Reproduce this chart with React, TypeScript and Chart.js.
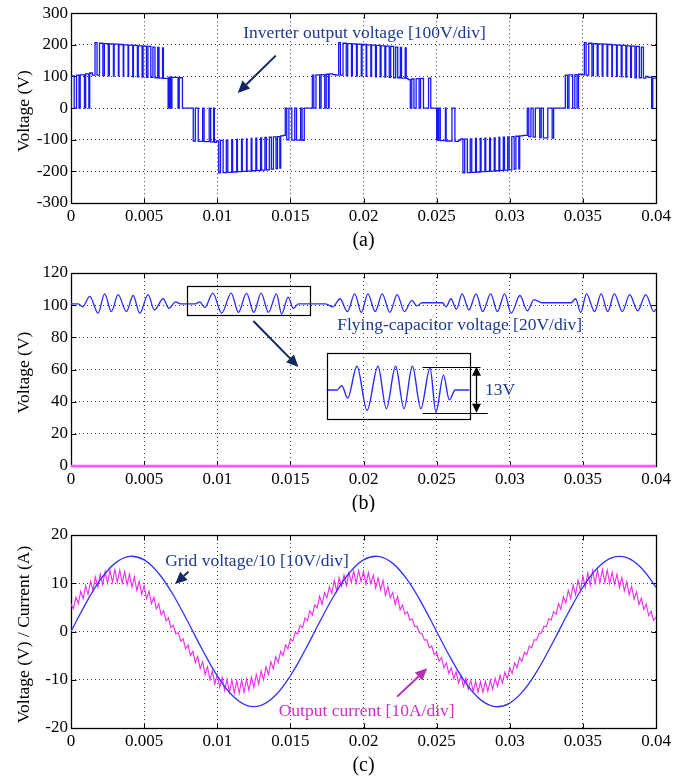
import { useEffect, useRef } from 'react';
import { Chart, registerables } from 'chart.js';

Chart.register(...registerables);

const SERIF = '"Liberation Serif", "Times New Roman", Times, serif';
const NAVY = '#1d3b8f';
const ARROW_NAVY = '#10285f';
const BLUE = '#1717ff';
const MAGENTA = '#ee2bee';
const MAGENTA_TEXT = '#d030c8';

// ---------- tick labels ----------
const xTickLabels = ['0', '0.005', '0.01', '0.015', '0.02', '0.025', '0.03', '0.035', '0.04'];
const voltageTicksA = [-300, -200, -100, 0, 100, 200, 300];
const voltageTicksB = [0, 20, 40, 60, 80, 100, 120];
const ticksC = [-20, -10, 0, 10, 20];

// ---------- (a) inverter output voltage: [time ms, level V], each level holds until next entry ----------
const inverterEdges: [number, number][] = [
  [0, 0], [0, 102], [0.22, 0], [0.38, 104], [0.55, 0], [0.63, 105], [0.92, 0], [1.0, 108], [1.22, 0], [1.28, 111], [1.46, 104],
  [1.64, 207], [1.78, 104], [1.95, 205], [2.18, 103], [2.28, 204], [2.55, 102], [2.62, 203], [2.9, 101], [2.95, 202], [3.24, 101],
  [3.28, 201], [3.57, 100], [3.61, 200], [3.9, 100], [3.94, 199], [4.22, 99], [4.27, 198], [4.54, 99], [4.6, 197], [4.86, 98],
  [4.93, 196], [5.16, 97], [5.26, 195], [5.46, 97], [5.6, 193], [5.74, 96], [5.93, 192], [6.02, 95], [6.26, 190], [6.32, 94],
  [6.64, 0], [6.7, 98], [6.76, 0], [6.82, 98], [6.87, 0], [6.9, 97], [7.32, 0], [7.4, 96], [7.62, 0],
  [8.36, -104], [8.5, 0], [8.7, -105], [9.0, 0], [9.1, -106], [9.45, 0], [9.55, -107], [9.75, 0], [9.8, -108], [9.95, -104],
  [10.1, -205], [10.22, -102], [10.4, -204], [10.62, -101], [10.72, -203], [10.99, -100], [11.05, -202], [11.33, -99], [11.38, -201],
  [11.66, -98], [11.71, -200], [12.0, -97], [12.04, -199], [12.32, -96], [12.37, -198], [12.64, -95], [12.7, -197], [12.96, -94],
  [13.03, -196], [13.26, -93], [13.36, -195], [13.56, -92], [13.7, -193], [13.84, -91], [14.02, -191], [14.12, -90], [14.28, -190],
  [14.34, -88], [14.5, -86],
  [14.65, 0], [14.75, -100], [14.9, 0], [15.1, -101], [15.3, 0], [15.42, -101], [15.7, 0], [15.8, -102], [15.95, 0],
  [16.5, 104], [16.6, 0], [16.75, 105], [17.0, 0], [17.1, 106], [17.35, 0], [17.45, 107], [17.6, 0], [17.65, 108], [17.9, 106], [18.1, 104],
  [18.3, 207], [18.42, 104], [18.6, 205], [18.82, 103], [18.92, 204], [19.18, 102], [19.24, 203], [19.52, 101], [19.57, 202],
  [19.85, 101], [19.9, 201], [20.18, 100], [20.22, 200], [20.5, 100], [20.55, 199], [20.82, 99], [20.88, 198], [21.14, 99],
  [21.2, 197], [21.46, 98], [21.52, 196], [21.76, 97], [21.86, 195], [22.06, 96], [22.2, 193], [22.34, 96], [22.52, 192],
  [22.6, 95], [22.85, 190], [22.92, 94], [23.05, 90],
  [23.2, 0], [23.3, 92], [23.45, 0], [23.6, 93], [23.8, 0], [23.9, 94], [24.1, 0], [24.45, 95], [24.6, 0],
  [25.0, -100], [25.05, 0], [25.1, -102], [25.15, 0], [25.25, -103], [25.6, 0], [25.65, -104], [26.05, 0], [26.25, -105], [26.5, -101], [26.65, -97],
  [26.8, -205], [26.92, -98], [27.1, -204], [27.3, -97], [27.4, -203], [27.66, -96], [27.72, -202], [27.98, -96], [28.04, -201],
  [28.3, -95], [28.36, -200], [28.62, -95], [28.68, -199], [28.94, -94], [29.0, -198], [29.26, -93], [29.32, -197], [29.56, -92],
  [29.64, -196], [29.86, -91], [29.96, -195], [30.14, -90], [30.3, -193], [30.42, -89], [30.62, -192], [30.68, -88], [30.9, -86],
  [31.2, 0], [31.3, -90], [31.45, 0], [31.6, -92], [31.75, 0], [32.05, -93], [32.15, 0], [32.3, -94], [32.6, 0], [32.9, -95], [33.0, 0],
  [33.8, 104], [33.95, 0], [34.05, 105], [34.3, 0], [34.45, 106], [34.6, 0], [34.7, 107], [34.9, 105],
  [35.1, 207], [35.22, 104], [35.4, 205], [35.62, 103], [35.72, 204], [35.98, 102], [36.04, 203], [36.32, 101], [36.37, 202],
  [36.65, 101], [36.7, 201], [36.98, 100], [37.02, 200], [37.3, 100], [37.35, 199], [37.62, 99], [37.68, 198], [37.94, 98],
  [38.0, 197], [38.26, 97], [38.32, 196], [38.56, 96], [38.66, 195], [38.86, 96], [39.0, 193], [39.14, 95], [39.3, 100],
  [39.45, 97], [39.7, 0], [39.78, 95], [40, 95],
];

// ---------- (b) flying-capacitor voltage: [time ms, V] ----------
const flyingCapPoints: [number, number][] = [
  [0, 100.8], [0.5, 100.8], [0.8, 99], [1.28, 105.5], [1.85, 95], [2.3, 107], [2.76, 96], [3.22, 106.5], [3.79, 96],
  [4.25, 106], [4.7, 95], [5.27, 106.5], [5.7, 97], [6.3, 104], [6.7, 98], [7.15, 102], [7.5, 100.8], [7.9, 100.8],
  [8.5, 100.8], [8.8, 102], [9.15, 98.5], [9.7, 107.5], [10.3, 95], [10.95, 107.5], [11.45, 95.5], [12.0, 107.5],
  [12.5, 95.5], [13.0, 107.5], [13.5, 95.5], [14.05, 107], [14.4, 94.5], [14.85, 105], [15.2, 98], [15.55, 100.8],
  [16.4, 100.8], [17.4, 100.8], [17.9, 99], [18.4, 104], [18.9, 96], [19.4, 107], [19.85, 95.5], [20.3, 107],
  [20.8, 96], [21.28, 107], [21.8, 95.5], [22.3, 106.5], [22.8, 96], [23.3, 103], [23.65, 99.5], [24.0, 101.5],
  [25.4, 101.5], [25.65, 99], [25.98, 104], [26.35, 97.5], [26.75, 107], [27.2, 97], [27.7, 107], [28.15, 96],
  [28.7, 107], [29.15, 96], [29.65, 107], [30.1, 95], [30.7, 106], [31.2, 96.5], [31.66, 103.5], [32.2, 101.5],
  [34.2, 101.5], [34.5, 104], [34.85, 95.5], [35.25, 107], [35.8, 96], [36.25, 107], [36.7, 96], [37.15, 107],
  [37.7, 96], [38.2, 106.5], [38.75, 96.5], [39.3, 106.5], [39.85, 96], [40, 97.5],
];
const zeroTrace: [number, number][] = [[0, 0], [40, 0]];
// magnified window (ms) shown in the inset
const insetWindow = [7.9, 16.4];

// ---------- (c) grid voltage / 10, sampled every 1 ms ----------
const gridVoltage = [
  0, 5.74, 10.68, 14.12, 15.57, 14.84, 12.02, 7.52, 1.96, -3.88, -9.17, -13.17, -15.32, -15.32, -13.17, -9.17, -3.88,
  1.96, 7.52, 12.02, 14.84, 15.57, 14.12, 10.68, 5.74, 0, -5.74, -10.68, -14.12, -15.57, -14.84, -12.02, -7.52, -1.96,
  3.88, 9.17, 13.17, 15.32, 15.32, 13.17, 9.17,
];
// output current, sampled every 1/6 ms
const outputCurrent = [
  5.7, 4.7, 7.1, 5.8, 8.3, 6.8, 9.5, 7.7, 10.4, 8.5, 11.3, 9.2, 11.9, 9.7, 12.4, 10.0, 12.7, 10.2, 12.8, 10.2,
  12.7, 10.0, 12.4, 9.7, 11.9, 9.2, 11.3, 8.5, 10.4, 7.7, 9.5, 6.8, 8.3, 5.8, 7.1, 4.7, 5.7, 3.4, 4.3, 2.2,
  2.8, 0.8, 1.3, -0.5, -0.2, -2.0, -1.5, -3.6, -2.8, -5.0, -4.1, -6.4, -5.2, -7.7, -6.3, -8.9, -7.3, -10.0, -8.2, -10.9,
  -8.9, -11.6, -9.5, -12.2, -9.9, -12.6, -10.1, -12.8, -10.2, -12.8, -10.1, -12.6, -9.9, -12.2, -9.5, -11.6, -8.9, -10.9, -8.2, -10.0,
  -7.3, -8.9, -6.3, -7.7, -5.2, -6.4, -4.1, -5.0, -2.8, -3.6, -1.5, -2.0, -0.2, -0.5, 1.3, 0.8, 2.8, 2.2, 4.3, 3.4,
  5.5, 4.9, 7.3, 5.6, 8.1, 7.0, 9.3, 7.9, 10.6, 8.3, 11.1, 9.4, 11.7, 9.5, 12.2, 10.2, 12.5, 10.0, 12.6, 10.4,
  12.5, 9.8, 12.2, 9.9, 11.7, 9.0, 11.1, 8.7, 10.6, 7.5, 9.3, 7.0, 8.1, 5.6, 7.3, 4.5, 5.5, 3.6, 4.1, 2.4,
  2.6, 1.0, 1.1, -0.3, -0.4, -1.8, -1.7, -3.4, -3.0, -4.8, -4.3, -6.2, -5.4, -7.5, -6.5, -8.7, -7.5, -9.8, -8.4, -10.7,
  -9.1, -11.4, -9.7, -12.0, -10.1, -12.4, -10.3, -12.6, -10.4, -12.6, -10.3, -12.4, -10.1, -12.0, -9.7, -11.4, -9.1, -10.7, -8.4, -9.8,
  -7.5, -8.7, -6.5, -7.5, -5.4, -6.2, -4.3, -4.8, -3.0, -3.4, -1.7, -1.8, -0.4, -0.3, 1.1, 1.0, 2.6, 2.4, 4.1, 3.6,
  5.8, 4.6, 7.2, 5.9, 8.5, 6.9, 9.6, 7.6, 10.6, 8.4, 11.5, 9.1, 12.1, 9.6, 12.6, 9.9, 12.8, 10.1, 12.9, 10.2,
  12.7, 10.0, 12.3, 9.8, 11.9, 9.1, 11.2, 8.4, 10.3, 7.6, 9.4, 6.7, 8.2, 5.6, 6.9, 4.6, 5.6, 3.3, 4.2, 2.3, 3.0,
];

type Note = { text: string; x: number; y: number; color: string };
type Arrow = { x1: number; y1: number; x2: number; y2: number; color: string };
type Rect = { x1: number; y1: number; x2: number; y2: number };
type HLine = { x1: number; x2: number; y: number };
type VArrow = { x: number; y1: number; y2: number };

type PanelSpec = {
  key: string;
  canvasTop: number;
  canvasHeight: number;
  padTop: number;
  xAxisHeight: number;
  yTicks: number[];
  yTitle: string;
  caption: string;
  datasets: any[];
  extraScales?: Record<string, any>;
  notes: Note[];
  arrows: Arrow[];
  rects?: Rect[];
  hlines?: HLine[];
  varrows?: VArrow[];
};

function drawArrowHead(ctx: CanvasRenderingContext2D, x1: number, y1: number, x2: number, y2: number, len: number, half: number) {
  const a = Math.atan2(y2 - y1, x2 - x1);
  const bx = x2 - len * Math.cos(a);
  const by = y2 - len * Math.sin(a);
  ctx.beginPath();
  ctx.moveTo(x2, y2);
  ctx.lineTo(bx + half * Math.sin(a), by - half * Math.cos(a));
  ctx.lineTo(bx - half * Math.sin(a), by + half * Math.cos(a));
  ctx.closePath();
  ctx.fill();
  return [bx, by];
}

function makeDecor(spec: PanelSpec) {
  return {
    id: 'decor_' + spec.key,
    beforeDatasetsDraw(chart: any) {
      const { ctx, chartArea: ca, scales } = chart;
      ctx.save();
      ctx.strokeStyle = '#000';
      ctx.lineWidth = 1;
      ctx.setLineDash([]);
      const L = Math.round(ca.left) + 0.5, R = Math.round(ca.right) + 0.5;
      const T = Math.round(ca.top) + 0.5, B = Math.round(ca.bottom) + 0.5;
      ctx.beginPath();
      const tl = 5;
      for (const t of scales.x.ticks) {
        const px = Math.round(scales.x.getPixelForValue(t.value)) + 0.5;
        ctx.moveTo(px, B); ctx.lineTo(px, B - tl);
        ctx.moveTo(px, T); ctx.lineTo(px, T + tl);
      }
      for (const t of scales.y.ticks) {
        const py = Math.round(scales.y.getPixelForValue(t.value)) + 0.5;
        ctx.moveTo(L, py); ctx.lineTo(L + tl, py);
        ctx.moveTo(R, py); ctx.lineTo(R - tl, py);
      }
      ctx.stroke();
      ctx.lineWidth = 1.3;
      ctx.strokeRect(L, T, R - L, B - T);
      ctx.restore();
    },
    afterDatasetsDraw(chart: any) {
      const { ctx, scales } = chart;
      const X = (v: number) => scales.x.getPixelForValue(v);
      const Y = (v: number) => scales.y.getPixelForValue(v);
      ctx.save();
      ctx.strokeStyle = '#000';
      ctx.lineWidth = 1.2;
      for (const r of spec.rects || []) {
        const x1 = Math.round(X(r.x1)) + 0.5, x2 = Math.round(X(r.x2)) + 0.5;
        const y1 = Math.round(Y(r.y1)) + 0.5, y2 = Math.round(Y(r.y2)) + 0.5;
        ctx.strokeRect(Math.min(x1, x2), Math.min(y1, y2), Math.abs(x2 - x1), Math.abs(y2 - y1));
      }
      ctx.lineWidth = 1;
      for (const h of spec.hlines || []) {
        const y = Math.round(Y(h.y)) + 0.5;
        ctx.beginPath(); ctx.moveTo(X(h.x1), y); ctx.lineTo(X(h.x2), y); ctx.stroke();
      }
      ctx.fillStyle = '#000';
      for (const v of spec.varrows || []) {
        const x = Math.round(X(v.x)) + 0.5;
        const ya = Y(v.y1), yb = Y(v.y2);
        ctx.lineWidth = 1.3;
        ctx.beginPath(); ctx.moveTo(x, ya + 8); ctx.lineTo(x, yb - 8); ctx.stroke();
        drawArrowHead(ctx, x, (ya + yb) / 2, x, ya, 9, 4.5);
        drawArrowHead(ctx, x, (ya + yb) / 2, x, yb, 9, 4.5);
      }
      for (const a of spec.arrows) {
        const x1 = X(a.x1), y1 = Y(a.y1), x2 = X(a.x2), y2 = Y(a.y2);
        ctx.fillStyle = a.color;
        ctx.strokeStyle = a.color;
        const [bx, by] = drawArrowHead(ctx, x1, y1, x2, y2, 12, 5.5);
        ctx.lineWidth = 2;
        ctx.beginPath(); ctx.moveTo(x1, y1); ctx.lineTo(bx, by); ctx.stroke();
      }
      ctx.font = `17.5px ${SERIF}`;
      ctx.textAlign = 'left';
      ctx.textBaseline = 'middle';
      for (const n of spec.notes) {
        ctx.fillStyle = n.color;
        ctx.fillText(n.text, X(n.x), Y(n.y));
      }
      ctx.restore();
    },
    afterDraw(chart: any) {
      const { ctx, chartArea: ca } = chart;
      ctx.save();
      ctx.fillStyle = '#000';
      ctx.font = `17.5px ${SERIF}`;
      ctx.textAlign = 'center';
      ctx.textBaseline = 'middle';
      ctx.translate(24, (ca.top + ca.bottom) / 2 + 3);
      ctx.rotate(-Math.PI / 2);
      ctx.fillText(spec.yTitle, 0, 0);
      ctx.restore();
      ctx.save();
      ctx.fillStyle = '#000';
      ctx.font = `20px ${SERIF}`;
      ctx.textAlign = 'center';
      ctx.textBaseline = 'middle';
      ctx.fillText(spec.caption, (ca.left + ca.right) / 2, ca.bottom + 38);
      ctx.restore();
    },
  };
}

function buildConfig(spec: PanelSpec): any {
  const tickFont = { family: SERIF, size: 17 };
  const gridOpts = { color: '#444', lineWidth: 1, drawTicks: false };
  const borderOpts = { display: false, dash: [1, 3] };
  const yMin = spec.yTicks[0];
  const yMax = spec.yTicks[spec.yTicks.length - 1];
  return {
    type: 'line',
    data: { datasets: spec.datasets },
    plugins: [makeDecor(spec)],
    options: {
      responsive: false,
      maintainAspectRatio: false,
      animation: false,
      devicePixelRatio: 1,
      events: [],
      layout: { padding: { top: spec.padTop, right: 34, left: 0, bottom: 0 } },
      plugins: { legend: { display: false }, tooltip: { enabled: false }, title: { display: false } },
      elements: { point: { radius: 0 } },
      scales: {
        x: {
          type: 'linear',
          min: 0,
          max: 0.04,
          afterFit: (s: any) => { s.height = spec.xAxisHeight; },
          ticks: {
            stepSize: 0.005,
            autoSkip: false,
            maxRotation: 0,
            padding: 3,
            color: '#000',
            font: tickFont,
            callback: (v: number) => xTickLabels[Math.round(v / 0.005)] ?? '',
          },
          grid: gridOpts,
          border: borderOpts,
        },
        y: {
          type: 'linear',
          min: yMin,
          max: yMax,
          afterFit: (s: any) => { s.width = 71; },
          ticks: {
            stepSize: spec.yTicks[1] - spec.yTicks[0],
            autoSkip: false,
            padding: 3,
            color: '#000',
            font: tickFont,
            callback: (v: number) => String(v),
          },
          grid: gridOpts,
          border: borderOpts,
        },
        ...(spec.extraScales || {}),
      },
    },
  };
}

const toXY = (pts: [number, number][]) => pts.map(([t, v]) => ({ x: t / 1000, y: v }));

const panelA: PanelSpec = {
  key: 'a',
  canvasTop: 0,
  canvasHeight: 250,
  padTop: 10,
  xAxisHeight: 47,
  yTicks: voltageTicksA,
  yTitle: 'Voltage (V)',
  caption: '(a)',
  datasets: [
    {
      data: toXY(inverterEdges),
      stepped: 'before',
      borderColor: BLUE,
      borderWidth: 1.3,
      pointRadius: 0,
      fill: false,
    },
  ],
  notes: [{ text: 'Inverter output voltage [100V/div]', x: 0.01178, y: 235, color: NAVY }],
  arrows: [{ x1: 0.014, y1: 166, x2: 0.0114, y2: 48, color: ARROW_NAVY }],
};

const panelB: PanelSpec = {
  key: 'b',
  canvasTop: 250,
  canvasHeight: 262,
  padTop: 23,
  xAxisHeight: 46,
  yTicks: voltageTicksB,
  yTitle: 'Voltage (V)',
  caption: '(b)',
  datasets: [
    {
      data: toXY(flyingCapPoints),
      borderColor: '#2a2aff',
      borderWidth: 1.3,
      cubicInterpolationMode: 'monotone',
      pointRadius: 0,
      fill: false,
    },
    {
      data: toXY(zeroTrace),
      borderColor: '#ff55ff',
      borderWidth: 2.4,
      pointRadius: 0,
      fill: false,
      clip: false,
    },
    {
      data: toXY(flyingCapPoints.filter(([t]) => t >= insetWindow[0] && t <= insetWindow[1])),
      xAxisID: 'xi',
      yAxisID: 'yi',
      borderColor: '#2a2aff',
      borderWidth: 1.4,
      cubicInterpolationMode: 'monotone',
      pointRadius: 0,
      fill: false,
    },
  ],
  extraScales: {
    xi: { type: 'linear', display: false, min: -0.00732, max: 0.0275 },
    yi: { type: 'linear', display: false, min: 79.33, max: 133.85 },
  },
  notes: [
    { text: 'Flying-capacitor voltage [20V/div]', x: 0.0182, y: 87.7, color: NAVY },
    { text: '13V', x: 0.0283, y: 47.3, color: NAVY },
  ],
  arrows: [{ x1: 0.01247, y1: 90.2, x2: 0.01555, y2: 61.6, color: ARROW_NAVY }],
  rects: [
    { x1: 0.00792, y1: 93.7, x2: 0.01637, y2: 111.9 },
    { x1: 0.01753, y1: 29.2, x2: 0.02726, y2: 70.3 },
  ],
  hlines: [
    { x1: 0.02404, x2: 0.028, y: 61.75 },
    { x1: 0.02404, x2: 0.0285, y: 33.15 },
  ],
  varrows: [{ x: 0.02767, y1: 61.75, y2: 33.15 }],
};

const panelC: PanelSpec = {
  key: 'c',
  canvasTop: 512,
  canvasHeight: 270,
  padTop: 23,
  xAxisHeight: 54,
  yTicks: ticksC,
  yTitle: 'Voltage (V) / Current (A)',
  caption: '(c)',
  datasets: [
    {
      data: gridVoltage.map((v, i) => ({ x: i / 1000, y: v })),
      borderColor: '#3333ff',
      borderWidth: 1.3,
      tension: 0.4,
      pointRadius: 0,
      fill: false,
    },
    {
      data: outputCurrent.map((v, i) => ({ x: i / 6000, y: v })),
      borderColor: MAGENTA,
      borderWidth: 1.1,
      tension: 0,
      pointRadius: 0,
      fill: false,
    },
  ],
  notes: [
    { text: 'Grid voltage/10 [10V/div]', x: 0.00644, y: 14.47, color: NAVY },
    { text: 'Output current [10A/div]', x: 0.0142, y: -16.6, color: MAGENTA_TEXT },
  ],
  arrows: [
    { x1: 0.00803, y1: 12.4, x2: 0.00712, y2: 9.84, color: ARROW_NAVY },
    { x1: 0.0223, y1: -13.5, x2: 0.02436, y2: -7.6, color: '#b530b5' },
  ],
};

function Panel({ spec }: { spec: PanelSpec }) {
  const ref = useRef<HTMLCanvasElement>(null);
  useEffect(() => {
    if (!ref.current) return;
    const chart = new Chart(ref.current, buildConfig(spec));
    return () => chart.destroy();
  }, [spec]);
  return (
    <canvas
      ref={ref}
      width={690}
      height={spec.canvasHeight}
      style={{ position: 'absolute', left: 0, top: spec.canvasTop, width: 690, height: spec.canvasHeight }}
    />
  );
}

export default function App() {
  return (
    <div style={{ position: 'absolute', left: 0, top: 0, width: 690, height: 782, background: '#fff' }}>
      <Panel spec={panelA} />
      <Panel spec={panelB} />
      <Panel spec={panelC} />
    </div>
  );
}
